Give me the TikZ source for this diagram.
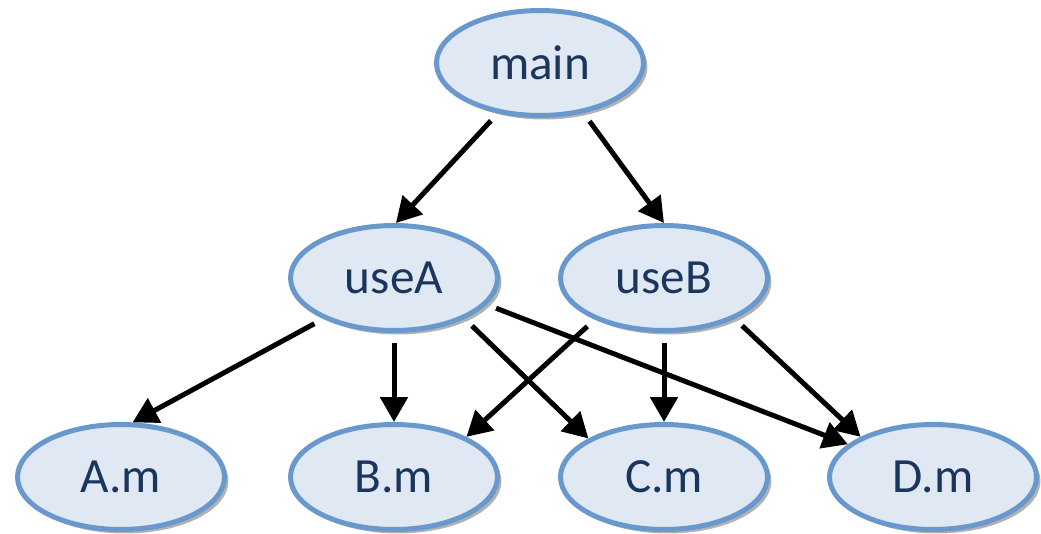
\documentclass[tikz,border=0pt]{standalone}
\usepackage{fontspec}
\setmainfont{Carlito}
\usepackage{tikz}
\usetikzlibrary{shapes.geometric, arrows.meta, shadows}
\definecolor{nodefill}{HTML}{DFE8F3}
\definecolor{nodeline}{HTML}{6898CC}
\definecolor{nodetext}{HTML}{1B365D}

\begin{document}
\begin{tikzpicture}[
  x=0.02cm, y=-0.02cm,
  every node/.style={font=\fontsize{28}{32}\selectfont},
  file/.style={ellipse, draw=nodeline, fill=nodefill, line width=0.1cm, text=nodetext,
    minimum width=4.14cm, minimum height=2.1cm, inner sep=0pt,
    drop shadow={shadow xshift=0.08cm, shadow yshift=-0.08cm, fill=black, opacity=0.3}},
  dep/.style={-{Triangle[length=0.5cm, width=0.54cm]}, line width=0.1cm, shorten <=0.2cm}
]
\useasboundingbox (0,0) rectangle (1041,534);

% top level
\node[file] (main) at (540,63) {main};

% middle level
\node[file] (useA) at (394,278) {useA};
\node[file] (useB) at (664,278) {useB};

% leaves
\node[file] (Am) at (121,477) {A.m};
\node[file] (Bm) at (394,477) {B.m};
\node[file] (Cm) at (664,477) {C.m};
\node[file] (Dm) at (933,477) {D.m};

% calls from main
\draw[dep] (main.230) -- (useA.88);
\draw[dep] (main.311) -- (useB.90);

% calls from useA
\draw[dep] (useA.210) -- (Am.78);
\draw[dep] (useA.270) -- (Bm.90);
\draw[dep] (useA.330) -- (Cm.153);
\draw[dep] (useA.344) -- (Dm.159);

% calls from useB
\draw[dep] (useB.211) -- (Bm.29);
\draw[dep] (useB.270) -- (Cm.90);
\draw[dep] (useB.330) -- (Dm.151);

\end{tikzpicture}
\end{document}
